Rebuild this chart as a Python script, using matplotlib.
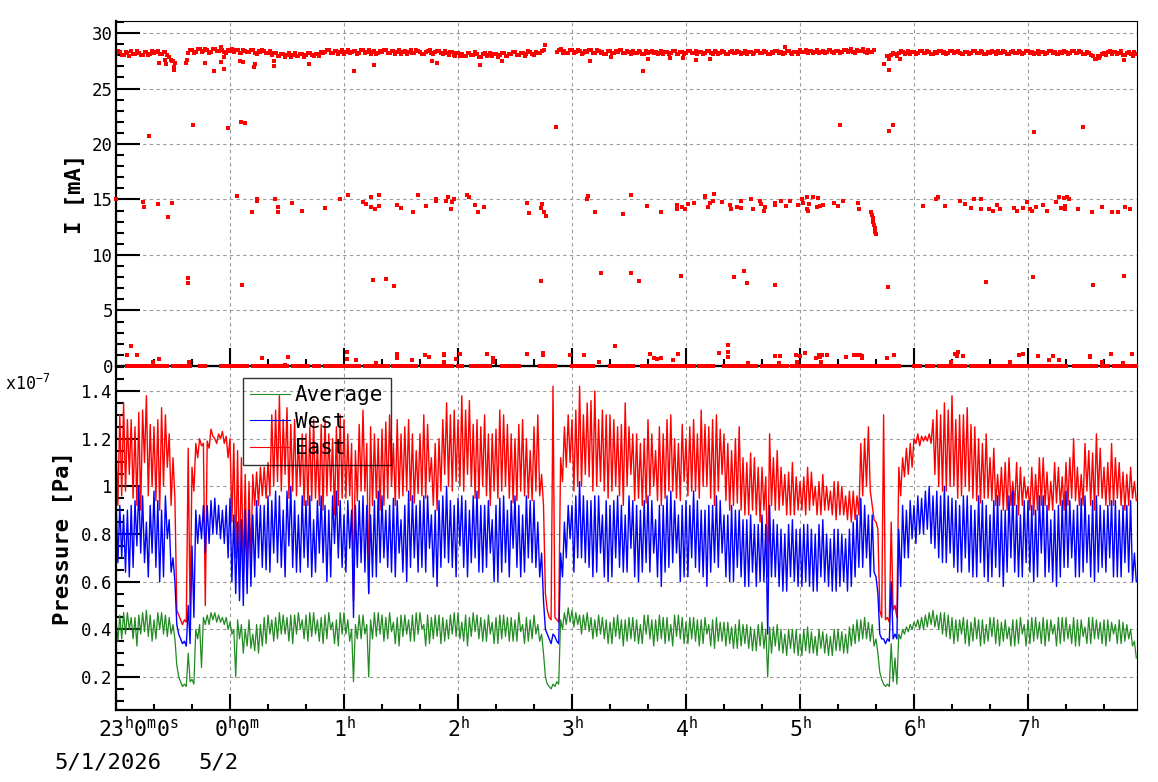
import numpy as np
import matplotlib
matplotlib.use("Agg")
import matplotlib.pyplot as plt
from matplotlib.ticker import MultipleLocator, FixedLocator, FixedFormatter
from matplotlib.transforms import ScaledTranslation

plt.rcParams['font.family'] = ['DejaVu Sans Mono', 'DejaVu Sans']
plt.rcParams['mathtext.fontset'] = 'custom'
plt.rcParams['mathtext.rm'] = 'DejaVu Sans Mono'
plt.rcParams['mathtext.it'] = 'DejaVu Sans Mono'
plt.rcParams['mathtext.bf'] = 'DejaVu Sans Mono:bold'

# ---- pressure in 2-min bins from 23:00 5/1/2026, units 1e-9 Pa
# *_a : one extreme reading of the bin, *_b : the other extreme of the same bin
east_a = [
    118, 96, 135, 105, 128, 92, 131, 110, 138, 100,
    125, 90, 133, 108, 122, 112, 48, 44, 43, 116,
    108, 118, 120, 50, 119, 121, 120, 122, 118, 112,
    120, 70, 115, 62, 105, 68, 105, 92, 108, 95,
    110, 130, 102, 138, 105, 133, 98, 128, 100, 122,
    92, 125, 95, 118, 90, 128, 98, 120, 92, 130,
    95, 122, 52, 115, 98, 132, 55, 125, 95, 120,
    92, 127, 100, 118, 95, 122, 98, 128, 93, 115,
    96, 130, 102, 112, 90, 120, 105, 135, 98, 132,
    100, 138, 105, 136, 95, 128, 100, 130, 92, 122,
    95, 132, 100, 126, 93, 120, 98, 128, 95, 115,
    98, 130, 105, 55, 45, 142, 43, 112, 125, 110,
    128, 100, 142, 105, 135, 98, 140, 102, 132, 95,
    130, 100, 125, 92, 135, 105, 122, 95, 118, 93,
    128, 100, 115, 92, 122, 98, 130, 95, 118, 102,
    120, 98, 128, 95, 132, 100, 125, 92, 130, 105,
    122, 90, 115, 93, 125, 88, 110, 90, 112, 85,
    108, 62, 122, 90, 115, 92, 105, 88, 110, 90,
    102, 88, 108, 92, 100, 88, 105, 90, 98, 86,
    102, 88, 96, 85, 98, 88, 118, 100, 125, 92,
    85, 48, 130, 45, 85, 50, 108, 112, 105, 118,
    120, 117, 121, 119, 122, 105, 132, 98, 135, 100,
    138, 95, 130, 100, 133, 95, 125, 93, 118, 95,
    112, 92, 105, 90, 110, 92, 102, 88, 108, 95,
    100, 88, 105, 92, 112, 90, 102, 93, 108, 90,
    110, 95, 120, 92, 105, 98, 115, 90, 122, 95,
    108, 92, 118, 95, 110, 90, 105, 95, 102,
]
east_b = [
    92, 130, 98, 128, 95, 125, 90, 132, 96, 126,
    94, 128, 100, 130, 92, 95, 46, 42, 44, 45,
    98, 112, 117, 118, 116, 124, 118, 120, 123, 121,
    85, 118, 65, 112, 60, 102, 92, 106, 96, 108,
    96, 100, 132, 98, 128, 95, 126, 96, 120, 92,
    122, 94, 128, 92, 126, 96, 122, 88, 125, 95,
    128, 96, 118, 94, 126, 98, 118, 92, 122, 90,
    124, 95, 130, 92, 128, 96, 125, 94, 122, 97,
    122, 95, 126, 92, 118, 98, 128, 100, 130, 102,
    128, 98, 132, 100, 126, 95, 125, 96, 122, 98,
    124, 98, 130, 95, 122, 94, 126, 96, 120, 94,
    125, 96, 92, 48, 44, 45, 44, 102, 108, 130,
    98, 132, 100, 130, 104, 136, 100, 128, 98, 130,
    98, 128, 96, 126, 100, 125, 94, 122, 92, 120,
    96, 122, 94, 125, 95, 128, 98, 120, 94, 126,
    96, 125, 98, 122, 100, 126, 95, 128, 98, 124,
    94, 118, 92, 120, 90, 112, 88, 114, 88, 108,
    90, 104, 92, 112, 90, 108, 88, 106, 88, 104,
    90, 104, 90, 106, 88, 102, 90, 100, 88, 102,
    88, 100, 86, 98, 86, 96, 96, 120, 98, 86,
    82, 45, 44, 43, 48, 45, 96, 104, 116, 108,
    118, 122, 119, 121, 118, 128, 100, 130, 98, 132,
    100, 128, 96, 130, 98, 126, 94, 120, 95, 122,
    94, 116, 92, 108, 90, 112, 92, 110, 92, 104,
    90, 108, 90, 112, 92, 106, 90, 110, 92, 104,
    92, 112, 94, 108, 92, 118, 92, 114, 96, 116,
    92, 110, 92, 112, 92, 106, 92, 108, 94,
]
west_a = [
    95, 70, 88, 62, 92, 75, 100, 68, 85, 72,
    98, 60, 90, 78, 86, 70, 42, 36, 33, 50,
    75, 90, 78, 72, 92, 80, 95, 78, 90, 70,
    95, 55, 85, 50, 90, 58, 88, 70, 92, 65,
    96, 72, 98, 66, 90, 75, 100, 64, 88, 70,
    94, 62, 86, 72, 96, 60, 90, 76, 98, 66,
    88, 74, 45, 92, 68, 96, 55, 88, 62, 98,
    70, 90, 64, 95, 72, 86, 60, 98, 70, 92,
    66, 96, 74, 88, 58, 94, 70, 100, 66, 92,
    75, 96, 62, 90, 70, 98, 64, 92, 72, 86,
    60, 95, 68, 90, 74, 96, 62, 88, 70, 94,
    66, 85, 72, 40, 36, 38, 35, 72, 85, 78,
    92, 70, 102, 68, 94, 62, 96, 72, 88, 60,
    92, 70, 96, 64, 88, 74, 94, 60, 90, 68,
    96, 72, 86, 58, 92, 66, 98, 72, 88, 62,
    94, 70, 98, 64, 90, 58, 92, 68, 96, 72,
    88, 60, 92, 66, 90, 58, 86, 64, 84, 60,
    88, 38, 92, 62, 84, 56, 80, 62, 86, 58,
    82, 60, 84, 56, 80, 62, 86, 58, 78, 56,
    82, 60, 78, 58, 85, 66, 95, 70, 88, 64,
    55, 38, 36, 35, 60, 36, 82, 70, 90, 78,
    92, 80, 95, 82, 100, 74, 98, 68, 100, 72,
    95, 64, 92, 70, 96, 62, 90, 68, 94, 60,
    88, 66, 96, 58, 90, 70, 98, 62, 88, 68,
    94, 60, 90, 72, 96, 64, 86, 58, 92, 66,
    98, 70, 90, 62, 95, 68, 88, 60, 96, 66,
    90, 70, 94, 62, 90, 68, 92, 60, 72,
]
west_b = [
    68, 92, 64, 90, 66, 94, 72, 96, 62, 92,
    66, 94, 62, 96, 64, 60, 38, 34, 35, 34,
    45, 76, 88, 92, 76, 94, 80, 92, 76, 92,
    60, 88, 52, 86, 55, 90, 62, 94, 66, 92,
    64, 94, 68, 96, 62, 98, 66, 94, 64, 96,
    66, 96, 64, 94, 68, 92, 62, 96, 70, 94,
    64, 94, 90, 66, 94, 64, 92, 62, 94, 68,
    96, 66, 92, 62, 94, 64, 92, 66, 96, 64,
    94, 64, 96, 62, 90, 66, 96, 68, 94, 62,
    95, 66, 94, 68, 96, 64, 92, 66, 94, 60,
    92, 64, 96, 62, 94, 66, 92, 64, 96, 68,
    94, 62, 52, 38, 34, 37, 34, 62, 70, 92,
    64, 96, 70, 96, 66, 94, 64, 96, 62, 94,
    62, 94, 66, 92, 64, 96, 62, 92, 64, 94,
    64, 94, 62, 92, 64, 96, 68, 94, 60, 92,
    62, 92, 66, 94, 62, 90, 64, 92, 66, 94,
    62, 88, 60, 90, 62, 86, 58, 88, 58, 84,
    60, 84, 62, 86, 58, 82, 56, 84, 60, 82,
    58, 84, 58, 82, 56, 84, 60, 80, 56, 82,
    58, 80, 56, 82, 62, 88, 66, 92, 62, 88,
    62, 36, 34, 36, 36, 38, 58, 92, 70, 94,
    76, 96, 80, 98, 76, 96, 70, 96, 68, 96,
    66, 94, 64, 96, 64, 92, 62, 96, 62, 92,
    62, 94, 62, 90, 64, 96, 64, 92, 62, 94,
    64, 92, 62, 96, 62, 92, 60, 90, 62, 94,
    66, 94, 62, 92, 64, 96, 62, 94, 64, 92,
    64, 92, 62, 94, 62, 92, 64, 94, 60,
]
average_a = [
    44, 36, 47, 40, 45, 33, 46, 39, 48, 35,
    44, 40, 47, 37, 45, 42, 25, 18, 16, 30,
    17, 40, 24, 42, 46, 44, 47, 43, 45, 40,
    43, 20, 36, 30, 40, 32, 38, 30, 42, 34,
    38, 44, 36, 47, 38, 45, 34, 46, 40, 44,
    35, 47, 38, 44, 34, 46, 40, 43, 33, 47,
    38, 44, 18, 42, 36, 46, 20, 44, 37, 47,
    35, 45, 39, 43, 33, 46, 38, 44, 35, 47,
    40, 42, 34, 45, 37, 46, 35, 44, 38, 47,
    36, 43, 33, 45, 39, 46, 35, 44, 38, 43,
    34, 46, 37, 45, 35, 44, 39, 42, 35, 44,
    38, 42, 30, 20, 16, 17, 18, 44, 47, 43,
    48, 42, 46, 40, 47, 36, 44, 38, 45, 34,
    43, 37, 46, 33, 44, 36, 45, 34, 42, 38,
    46, 33, 44, 36, 45, 35, 42, 37, 46, 34,
    43, 36, 45, 33, 44, 38, 42, 32, 45, 35,
    43, 34, 41, 32, 44, 34, 42, 31, 40, 33,
    43, 20, 41, 33, 42, 30, 38, 32, 40, 29,
    38, 31, 41, 30, 37, 32, 39, 29, 37, 31,
    40, 30, 38, 33, 42, 35, 44, 36, 43, 33,
    30, 22, 17, 16, 34, 17, 38, 40, 39, 42,
    41, 44, 40, 46, 42, 48, 40, 47, 37, 46,
    34, 44, 38, 45, 33, 43, 36, 44, 34, 42,
    37, 45, 33, 43, 36, 41, 33, 44, 38, 42,
    34, 45, 36, 43, 33, 44, 38, 42, 34, 45,
    36, 42, 33, 44, 37, 41, 34, 45, 36, 43,
    33, 44, 38, 42, 34, 43, 36, 40, 28,
]
average_b = [
    35, 46, 38, 47, 36, 45, 38, 47, 37, 46,
    36, 47, 38, 46, 38, 36, 20, 16, 17, 18,
    19, 36, 42, 45, 42, 47, 43, 46, 42, 45,
    38, 40, 44, 42, 33, 44, 31, 42, 33, 45,
    46, 35, 45, 38, 46, 35, 46, 38, 47, 36,
    46, 37, 47, 35, 45, 36, 47, 34, 44, 38,
    47, 35, 40, 36, 46, 38, 42, 36, 47, 38,
    46, 36, 47, 34, 45, 37, 46, 35, 46, 38,
    47, 33, 46, 36, 46, 34, 45, 36, 46, 37,
    47, 35, 46, 37, 47, 36, 45, 35, 46, 34,
    45, 36, 46, 35, 45, 35, 47, 34, 45, 36,
    46, 35, 38, 17, 15, 16, 17, 40, 42, 49,
    41, 47, 38, 46, 39, 45, 37, 46, 36, 44,
    34, 45, 36, 44, 35, 45, 35, 44, 34, 46,
    36, 44, 35, 46, 34, 45, 33, 46, 36, 45,
    34, 45, 35, 44, 34, 45, 33, 44, 35, 43,
    33, 43, 32, 42, 33, 42, 32, 41, 31, 42,
    32, 40, 30, 41, 31, 40, 29, 40, 30, 40,
    29, 40, 30, 39, 29, 40, 30, 38, 29, 40,
    31, 39, 30, 41, 34, 44, 36, 45, 35, 42,
    36, 19, 16, 17, 18, 28, 36, 38, 41, 40,
    43, 40, 45, 41, 47, 41, 46, 38, 47, 36,
    45, 35, 44, 34, 44, 35, 45, 33, 44, 35,
    45, 34, 44, 35, 44, 33, 44, 34, 45, 33,
    44, 35, 45, 34, 45, 35, 44, 33, 45, 35,
    45, 34, 45, 33, 44, 34, 45, 36, 44, 34,
    44, 35, 43, 34, 44, 35, 42, 33, 35,
]

# ---- beam current [0.1 mA], main band: (start minute, readings at even min, readings at odd min)
band_segments = [
    (0, [281, 283, 280, 282, 284, 281, 282, 280, 283, 281, 282, 284, 281, 283, 278, 275],
        [284, 280, 283, 279, 281, 284, 280, 283, 280, 284, 283, 281, 283, 280, 276, 273]),
    (38, [282, 285, 283, 286, 284, 285, 283, 286, 284, 285, 282, 284,
          283, 285, 282, 284, 283, 285, 281, 283, 284, 282,
          280, 282, 279, 281, 280, 278, 282, 279, 281, 280, 282, 279, 281, 283,
          283, 285, 282, 284, 283, 281, 285, 283, 284, 282,
          285, 283, 281, 284, 282, 283, 285, 282, 284, 283,
          281, 284, 283, 282, 285, 283, 281, 284, 282, 283,
          284, 281, 282, 283, 280, 282,
          281, 279, 282, 280, 281, 278, 282, 280, 279, 281,
          280, 282, 279, 281, 283, 280, 282, 281, 283, 280, 282, 284],
         [285, 282, 286, 283, 286, 282, 286, 284, 287, 283, 285, 286,
          285, 282, 285, 283, 285, 282, 284, 285, 282, 284,
          282, 279, 281, 278, 282, 280, 279, 281, 278, 282, 280, 281, 279, 282,
          285, 282, 284, 281, 285, 283, 282, 284, 281, 285,
          282, 285, 283, 281, 284, 285, 282, 284, 281, 285,
          283, 281, 285, 282, 284, 281, 283, 285, 281, 284,
          282, 284, 280, 283, 282, 279,
          279, 282, 280, 283, 278, 281, 279, 282, 281, 278,
          282, 279, 281, 283, 280, 282, 279, 284, 281, 283, 282, 285]),
    (232, [283, 286, 284, 282, 285, 283, 284, 282, 283, 285,
           282, 284, 283, 281, 284, 282, 283, 285, 282, 283,
           284, 282, 283, 281, 282, 284, 283, 282, 281, 283,
           282, 284, 281, 283, 282, 284, 282, 281, 283, 282,
           284, 281, 283, 282, 283, 281, 284, 282, 283, 282,
           281, 283, 282, 284, 282, 283, 281, 282, 284, 283,
           282, 284, 281, 283, 285, 283, 282, 284, 283, 282,
           284, 283, 285, 282, 284, 283, 285, 284, 283, 285,
           284, 283, 285, 283],
          [285, 282, 282, 285, 282, 285, 281, 284, 285, 282,
           285, 282, 281, 284, 282, 284, 285, 282, 284, 281,
           282, 284, 281, 284, 283, 282, 281, 284, 283, 281,
           284, 281, 283, 281, 284, 282, 284, 283, 281, 284,
           282, 284, 281, 284, 281, 283, 282, 284, 281, 284,
           283, 281, 284, 282, 284, 281, 283, 284, 282, 281,
           284, 282, 283, 281, 283, 285, 284, 282, 285, 283,
           282, 285, 283, 284, 282, 285, 283, 286, 282, 284,
           286, 282, 283, 285]),
    (406, [279, 280, 281, 282, 283, 282, 281, 283, 282, 284,
           282, 283, 281, 282, 284, 283, 282, 284, 283, 282,
           281, 283, 282, 284, 282, 283, 281, 282, 283, 284,
           282, 283, 281, 284, 282, 283, 282, 284, 283, 282,
           281, 283, 282, 284, 283, 281, 282, 283, 282, 284,
           282, 283, 281, 282, 279, 277, 279, 282, 283, 281,
           283, 282, 280, 282, 281, 283],
          [277, 282, 279, 284, 281, 284, 283, 281, 284, 282,
           284, 281, 283, 284, 282, 281, 284, 282, 284, 281,
           283, 281, 284, 282, 284, 281, 283, 284, 281, 282,
           284, 281, 283, 282, 284, 281, 284, 282, 281, 284,
           283, 281, 284, 282, 281, 283, 284, 281, 284, 282,
           284, 281, 283, 280, 277, 279, 281, 280, 284, 283,
           281, 284, 280, 283, 279, 281]),
]

# runs of zero-current readings (start, end minute), read every minute
zero_runs = [(6, 20), (22, 27), (30, 39), (44, 47), (55, 62), (64, 69), (72, 81),
             (83, 90), (93, 96), (98, 101), (104, 107), (110, 113), (114, 122),
             (123, 128), (131, 139), (140, 143), (146, 154), (156, 158), (161, 168),
             (169, 177), (180, 182), (187, 192), (193, 197), (203, 205), (207, 212),
             (223, 231), (240, 251), (260, 267), (269, 272), (277, 290), (292, 304),
             (307, 314), (320, 325), (327, 337), (340, 346), (348, 353), (356, 362),
             (364, 393), (394, 400), (402, 412), (420, 423), (427, 430), (433, 438),
             (440, 447), (450, 455), (457, 464), (465, 475), (477, 490), (492, 500),
             (504, 516), (519, 522), (525, 537)]

# isolated current readings: minute after 23:00, value [mA]
out_min = [22.8, 25.9, 26.3, 29.5, 30.5, 30.5, 37.0, 37.5, 47.0, 51.7, 55.4, 57.0, 57.0,
           65.4, 67.0, 72.8, 73.3, 83.3, 83.3, 101.7, 125.4, 135.9, 166.5, 169.1, 178.6,
           191.7, 203.3, 225.9, 249.6, 260.6, 277.5, 280.1, 291.7, 298.4, 305.4, 312.8,
           352.2, 404.3, 407.0, 412.8, 517.4, 530.7,
           17.5, 40.7, 59.1, 65.9, 68.0, 231.7, 381.2, 407.0, 409.1, 483.3, 509.1,
           0.0, 14.0, 14.9, 22.3, 27.5, 29.6, 63.8, 71.7, 74.2, 74.2, 83.8, 85.4, 85.4,
           92.8, 98.0, 110.2, 118.0, 122.3, 130.1, 131.7, 134.4, 134.4, 136.5, 138.6,
           138.6, 147.7, 150.2, 156.5, 159.1, 163.3, 168.6, 168.6, 173.8, 174.8, 176.5,
           177.0, 178.0, 184.9, 186.0, 189.1, 190.7, 193.8, 216.4, 217.5, 223.8, 224.3,
           225.4, 226.5, 248.0, 248.6, 252.3, 267.0, 271.2, 279.6, 287.0, 295.4, 295.4,
           298.0, 299.6, 301.2, 304.4, 310.1, 310.1, 311.7, 312.8, 314.3, 314.8, 319.1,
           323.3, 323.8, 327.0, 329.1, 329.1, 334.4, 335.4, 339.1, 339.6, 341.2, 341.7,
           347.0, 347.0, 350.2, 352.8, 354.9, 359.1, 361.2, 361.7, 363.8, 363.8, 364.3,
           364.9, 367.0, 369.1, 369.6, 370.7, 372.2, 378.0, 380.1, 382.8, 390.7, 391.2,
           397.5, 397.9, 398.3, 398.6, 399.0, 399.3, 399.6, 400.0,
           424.9, 431.7, 432.8, 436.5, 444.4, 447.0, 450.1, 451.7, 455.4, 455.4, 459.6,
           461.7, 463.8, 465.4, 472.8, 474.4, 477.5, 479.6, 481.2, 482.2, 484.4, 488.0,
           490.1, 494.9, 496.5, 497.5, 499.1, 499.6, 499.6, 500.7, 501.7, 506.5, 513.8,
           519.1, 524.4, 527.5, 531.2, 533.8,
           38.1, 38.1, 66.5, 135.4, 142.2, 146.5, 223.8, 255.4, 271.2, 275.4, 297.5,
           325.4, 330.6, 332.2, 347.0, 406.5, 458.0, 482.8, 514.3, 530.7,
           5.9, 8.1, 11.2, 19.6, 22.8, 38.6, 77.0, 89.1, 90.7, 121.7, 121.7, 126.5, 137.0,
           148.0, 148.0, 155.9, 162.8, 164.8, 172.8, 172.8, 172.8, 179.1, 181.2, 195.4,
           198.5, 198.5, 216.4, 224.8, 224.8, 239.1, 246.5, 254.4, 262.8, 281.2, 283.3,
           284.8, 287.0, 293.3, 295.9, 317.5, 322.3, 322.3, 322.3, 332.8, 347.0, 349.1,
           349.6, 358.0, 358.6, 360.2, 362.8, 368.6, 370.1, 370.7, 371.2, 371.7, 374.3,
           384.4, 388.6, 390.2, 391.7, 392.7, 392.7, 405.9, 409.6, 439.6, 441.7, 442.8,
           443.3, 445.9, 470.7, 475.4, 477.5, 485.4, 491.1, 493.3, 496.5, 512.8, 512.8,
           519.1, 523.9, 530.2, 534.9]
out_ma = [27.3, 27.6, 27.2, 27.5, 26.7, 26.95, 27.3, 27.6, 27.3, 26.55, 27.4, 26.8, 27.8,
          27.5, 27.4, 26.9, 27.2, 27.5, 27.0, 27.2, 26.55, 27.1, 27.45, 27.27, 27.9,
          27.1, 27.45, 28.9, 27.45, 27.8, 26.55, 27.65, 27.75, 27.75, 27.6, 27.65,
          28.7, 27.2, 26.7, 27.65, 27.75, 27.55,
          20.7, 21.7, 21.4, 22.0, 21.85, 21.5, 21.7, 21.2, 21.75, 21.05, 21.5,
          15.0, 14.75, 14.3, 14.6, 13.4, 14.65, 15.3, 13.9, 15.0, 14.9, 15.0, 14.3, 13.9,
          14.65, 14.0, 14.2, 15.05, 15.4, 14.8, 14.55, 15.2, 14.3, 14.1, 15.4,
          14.4, 14.5, 14.2, 13.9, 15.45, 14.4, 15.0, 14.85, 14.9, 15.2, 14.1,
          14.75, 15.0, 15.45, 15.2, 14.5, 13.9, 14.3, 14.65, 13.75, 14.2, 14.6,
          13.85, 13.5, 15.0, 15.35, 13.85, 13.7, 15.45, 14.4, 13.9, 14.5, 14.1,
          14.3, 14.1, 14.6, 14.7, 15.35, 15.25, 14.3, 14.65, 14.85, 15.5, 14.75,
          14.5, 14.1, 14.3, 14.9, 14.2, 15.0, 14.1, 14.85, 14.6, 14.0, 14.3,
          14.65, 14.5, 14.9, 14.4, 14.9, 14.5, 15.0, 14.65, 15.25, 14.1, 14.0,
          14.6, 15.2, 14.3, 15.1, 14.4, 14.5, 14.65, 14.4, 14.9, 14.65, 14.1,
          13.85, 13.6, 13.3, 13.0, 12.7, 12.4, 12.1, 11.9,
          14.4, 15.0, 15.2, 14.4, 14.9, 14.6, 14.25, 15.0, 15.0, 14.1, 14.1,
          14.0, 14.5, 14.1, 14.2, 14.0, 14.2, 14.75, 14.1, 14.0, 14.3, 14.5,
          14.0, 14.75, 15.2, 14.2, 15.1, 14.4, 14.1, 15.25, 15.0, 14.1, 13.9,
          14.3, 13.9, 13.9, 14.3, 14.1,
          7.9, 7.5, 7.3, 7.75, 7.8, 7.25, 7.7, 8.35, 8.35, 7.7, 8.1,
          8.0, 8.6, 7.5, 7.3, 7.1, 7.55, 8.0, 7.3, 8.1,
          0.96, 1.77, 0.96, 0.33, 0.6, 0.33, 0.69, 0.1, 0.78, 1.23, 0.6, 0.5, 0.3,
          1.05, 0.7, 0.5, 0.96, 0.78, 1.05, 0.96, 0.33, 0.6, 1.05, 1.05,
          0.7, 0.4, 1.05, 1.0, 1.15, 1.0, 1.0, 0.4, 1.77, 1.05, 0.7,
          0.6, 0.7, 0.5, 1.05, 1.15, 1.9, 1.3, 0.8, 0.3, 0.87, 0.3,
          0.87, 1.0, 0.4, 0.87, 1.15, 0.7, 1.0, 0.78, 0.33, 1.0, 1.0,
          0.78, 1.0, 1.0, 1.0, 0.9, 0.7, 0.7, 0.96, 0.4, 1.05, 0.87,
          1.25, 0.87, 0.4, 0.96, 1.05, 0.87, 0.5, 0.87, 0.5, 0.87, 0.78,
          0.4, 1.05, 0.3, 1.05]

hour_ticks = [0, 1, 2, 3, 4, 5, 6, 7, 8]
hour_labels = [r'23$^{\mathrm{h}}$0$^{\mathrm{m}}$0$^{\mathrm{s}}$', r'0$^{\mathrm{h}}$0$^{\mathrm{m}}$',
               r'1$^{\mathrm{h}}$', r'2$^{\mathrm{h}}$', r'3$^{\mathrm{h}}$', r'4$^{\mathrm{h}}$',
               r'5$^{\mathrm{h}}$', r'6$^{\mathrm{h}}$', r'7$^{\mathrm{h}}$']
date_labels = [(0, '5/1/2026'), (1, '5/2')]
p_ticks = [0.2, 0.4, 0.6, 0.8, 1.0, 1.2, 1.4]
p_labels = ['0.2', '0.4', '0.6', '0.8', '1', '1.2', '1.4']


def bin_trace(a, b):
    # each 2-min bin drawn as its high reading then its low reading
    a = np.array(a) / 100.
    b = np.array(b) / 100.
    t0 = np.arange(len(a)) * 2.
    tt = np.empty(2 * len(a))
    yy = np.empty(2 * len(a))
    tt[0::2], tt[1::2] = t0, t0 + 1
    yy[0::2], yy[1::2] = np.maximum(a, b), np.minimum(a, b)
    return tt / 60., yy


# ---------------------------------------------------------------
fig = plt.figure(figsize=(11.58, 7.82), dpi=100)
W, H = 1158., 782.
ax2 = fig.add_axes([116 / W, 1 - 710 / H, 1021 / W, 344 / H])
ax1 = fig.add_axes([116 / W, 1 - 366 / H, 1021 / W, 345 / H])
ax1.set_zorder(3)
ax1.patch.set_alpha(0)

xmax = 1021 / 114.
for ax in (ax1, ax2):
    ax.set_xlim(0, xmax)
    ax.xaxis.set_major_locator(FixedLocator(hour_ticks))
    ax.xaxis.set_minor_locator(MultipleLocator(1 / 3))
    ax.grid(True, which='major', color='#9a9a9a', lw=0.8, ls=(0, (3, 3)))
    ax.set_axisbelow(True)
    for s in ('left', 'bottom'):
        ax.spines[s].set_linewidth(1.6)
    for s in ('top', 'right'):
        ax.spines[s].set_linewidth(0.8)
    ax.tick_params(which='both', direction='in', top=False, right=False, width=1.5)

# top pad: current
red = '#ff0000'
for start, even, odd in band_segments:
    k = np.arange(len(even))
    ax1.plot((start + 2 * k) / 60., np.array(even) / 10., 's', color=red, ms=3.5, mew=0)
    ax1.plot((start + 1 + 2 * k) / 60., np.array(odd) / 10., 's', color=red, ms=3.5, mew=0)
zt = np.concatenate([np.arange(a, b + 1) for a, b in zero_runs]) / 60.
ax1.plot(zt, np.zeros_like(zt), 's', color=red, ms=3.3, mew=0, clip_on=False, zorder=4)
ax1.plot(np.array(out_min) / 60., out_ma, 's', color=red, ms=3.3, mew=0, clip_on=False, zorder=4)

ax1.set_ylim(0, 30 * 345 / 333.)
ax1.yaxis.set_major_locator(MultipleLocator(5))
ax1.yaxis.set_minor_locator(MultipleLocator(1))
ax1.tick_params(axis='y', which='major', length=17, labelsize=12.5, pad=2)
ax1.tick_params(axis='y', which='minor', length=5.8)
ax1.tick_params(axis='x', which='major', length=13, labelbottom=False)
ax1.tick_params(axis='x', which='minor', length=5)
ax1.set_ylabel('I [mA]', fontsize=16, fontweight='bold')
ax1.yaxis.set_label_coords(-0.030, 0.5)

# bottom pad: pressure
le, = ax2.plot(*bin_trace(east_a, east_b), color=red, lw=1.0, label='East')
lw_, = ax2.plot(*bin_trace(west_a, west_b), color='#0000ff', lw=1.0, label='West')
la, = ax2.plot(*bin_trace(average_a, average_b), color='#228b22', lw=0.9, label='Average')

ax2.set_ylim(0.2 - 0.2 * 33 / 47.67, 1.4 + 0.2 * 25 / 47.67)
ax2.yaxis.set_major_locator(FixedLocator(p_ticks))
ax2.yaxis.set_major_formatter(FixedFormatter(p_labels))
ax2.yaxis.set_minor_locator(MultipleLocator(0.05))
ax2.tick_params(axis='y', which='major', length=17, labelsize=12.5, pad=2.5)
ax2.tick_params(axis='y', which='minor', length=5.8)
ax2.tick_params(axis='x', which='major', length=11.5, labelsize=15.5, pad=4)
ax2.tick_params(axis='x', which='minor', length=4.3)
ax2.set_xticklabels(hour_labels)
ax2.set_ylabel('Pressure [Pa]', fontsize=16, fontweight='bold')
ax2.yaxis.set_label_coords(-0.042, 0.5)

# ROOT-like placement of the first two time labels
shifts = [0.225, 0.07]
for lab, dx in zip(ax2.get_xticklabels()[:2], shifts):
    lab.set_transform(lab.get_transform() + ScaledTranslation(dx, 0, fig.dpi_scale_trans))
for (x, txt), dx in zip(date_labels, [-6.1, -8.3]):
    ax2.annotate(txt, xy=(x, 0), xycoords=('data', 'axes fraction'), xytext=(dx, -42),
                 textcoords='offset points', ha='center', va='baseline', fontsize=16)

fig.text(5 / W, 1 - 390 / H, r'x10$^{\mathrm{-7}}$', fontsize=12, va='baseline')

leg = ax2.legend(handles=[la, lw_, le], loc='upper left', bbox_to_anchor=(0.1244, 0.965),
                 fontsize=15, fancybox=False, edgecolor='black', facecolor='none',
                 borderpad=0.35, handletextpad=0.25, labelspacing=0.3, handlelength=1.9,
                 borderaxespad=0)
leg.get_frame().set_linewidth(1.0)
for h in leg.legend_handles:
    h.set_linewidth(0.8)

fig.savefig('out.png', dpi=100)
